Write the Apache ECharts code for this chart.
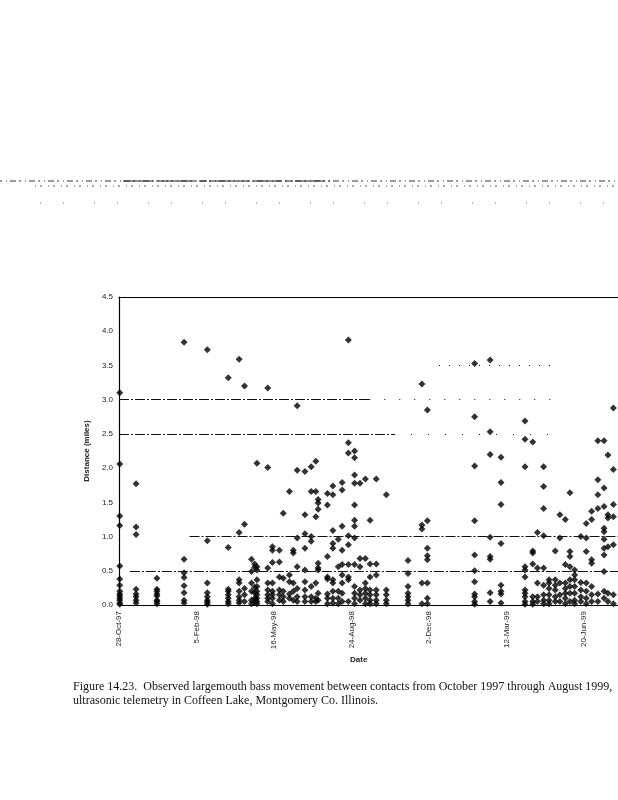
<!DOCTYPE html>
<html>
<head>
<meta charset="utf-8">
<script src="https://cdn.jsdelivr.net/npm/echarts@6/dist/echarts.min.js"></script>
<style>
html,body{margin:0;padding:0;background:#fff;}
#chart{width:618px;height:800px;}
</style>
</head>
<body>
<div id="chart"></div>
<script>
// Tick labels (x axis: days since 28-Oct-97, every 100 days)
const dateLabels = ['28-Oct-97','5-Feb-98','16-May-98','24-Aug-98','2-Dec-98','12-Mar-99','20-Jun-99'];
const yTickLabels = ['0.0','0.5','1.0','1.5','2.0','2.5','3.0','3.5','4.0','4.5'];

// Tracking days (days after 28-Oct-97)
const trackDays = [1,22,49,84,114,141,155,162,171,175,178,192,198,207,212,220,225,230,240,248,254,257,269,276,283,288,296,304,311,318,324,332,345,373,391,398,459,479,493,524,534,540,548,555,563,569,576,582,588,596,603,610,618,626,631,638];

// Distances moved (miles) observed on each tracking day
const distances = [
  [3.10,2.06,1.30,1.16,0.57,0.38,0.29,0.20,0.16,0.13,0.10,0.07,0.03,0.01],
  [1.77,1.14,1.03,0.23,0.16,0.12,0.07,0.03],
  [0.39,0.23,0.20,0.16,0.13,0.07,0.05,0.02],
  [3.84,0.67,0.47,0.40,0.28,0.18,0.07,0.03],
  [3.73,0.94,0.32,0.18,0.12,0.07,0.04,0.01],
  [3.32,0.84,0.23,0.20,0.15,0.10,0.05,0.02],
  [3.59,1.06,0.37,0.32,0.20,0.12,0.07,0.03],
  [3.20,1.18,0.24,0.15,0.05],
  [0.67,0.49,0.32,0.20,0.07,0.02],
  [0.60,0.55,0.26,0.18,0.10,0.04],
  [2.07,0.56,0.51,0.37,0.27,0.20,0.15,0.10,0.05,0.02],
  [3.17,2.01,0.54,0.32,0.22,0.15,0.10,0.05],
  [0.85,0.80,0.62,0.32,0.20,0.15,0.10,0.02],
  [0.80,0.63,0.41,0.22,0.15,0.07],
  [1.34,0.39,0.20,0.12,0.05],
  [1.66,0.44,0.34,0.16,0.10],
  [0.80,0.76,0.32,0.20,0.07],
  [2.91,1.97,0.98,0.56,0.24,0.12,0.05],
  [1.95,1.32,1.04,0.83,0.51,0.34,0.22,0.12,0.05],
  [2.02,1.66,1.00,0.93,0.27,0.12,0.05],
  [2.10,1.66,1.29,0.32,0.10,0.05],
  [1.54,1.49,1.40,0.61,0.54,0.51,0.17,0.07],
  [1.63,1.46,0.71,0.41,0.38,0.16,0.10,0.02],
  [1.74,1.61,1.09,0.90,0.83,0.37,0.32,0.20,0.10,0.03],
  [0.96,0.56,0.20,0.10,0.02],
  [1.79,1.68,1.15,0.80,0.59,0.44,0.32,0.17,0.05],
  [3.87,2.37,2.22,1.01,0.88,0.59,0.41,0.37,0.05],
  [2.25,2.15,1.90,1.78,1.46,1.24,1.15,0.98,0.59,0.27,0.17,0.10,0.02],
  [1.78,0.68,0.56,0.22,0.15,0.07],
  [1.84,0.68,0.32,0.24,0.17,0.10,0.02],
  [1.24,0.60,0.41,0.22,0.15,0.07,0.02],
  [1.84,0.60,0.44,0.22,0.15,0.07,0.02],
  [1.61,0.22,0.15,0.07,0.02],
  [0.65,0.46,0.27,0.17,0.12,0.07,0.02],
  [3.23,1.17,1.11,0.32,0.02],
  [2.85,1.23,0.83,0.72,0.66,0.32,0.10,0.02],
  [3.53,2.75,2.03,1.23,0.73,0.50,0.34,0.16,0.12,0.05,0.01],
  [3.58,2.53,2.20,0.99,0.71,0.67,0.18,0.05],
  [2.16,1.79,1.47,0.90,0.29,0.20,0.16,0.03],
  [2.69,2.42,2.02,0.56,0.51,0.41,0.22,0.17,0.12,0.05,0.01],
  [2.38,0.79,0.76,0.60,0.12,0.05,0.01],
  [1.06,0.54,0.32,0.12,0.05],
  [2.02,1.73,1.41,1.01,0.54,0.29,0.15,0.07,0.02],
  [0.37,0.32,0.24,0.15,0.07,0.02],
  [0.79,0.37,0.29,0.22,0.12,0.05],
  [1.32,0.98,0.32,0.15,0.05],
  [1.25,0.59,0.32,0.24,0.17,0.10,0.02],
  [1.64,0.78,0.71,0.56,0.37,0.27,0.17,0.05],
  [0.51,0.44,0.37,0.27,0.17,0.07,0.02],
  [1.00,0.33,0.22,0.12,0.05],
  [1.19,0.98,0.78,0.32,0.20,0.10,0.02],
  [1.37,1.25,0.66,0.61,0.27,0.15,0.05],
  [2.40,1.83,1.61,1.41,0.16,0.05],
  [2.40,1.71,1.44,1.12,1.07,0.96,0.83,0.73,0.49,0.20,0.10],
  [2.19,1.32,1.27,0.85,0.17,0.05],
  [2.88,1.98,1.47,1.29,0.88,0.15,0.02]
];

const points = [];
trackDays.forEach((d, i) => distances[i].forEach(v => points.push([d, v])));

// Faded (scanned) gridline segments: [value, fromDay, toDay, dashPattern]
const gridSegs = [
  [3.0, 0, 323, [10,2,2,2]], [3.0, 323, 567, [1,14]],
  [2.5, 0, 355, [10,2,2,2]], [2.5, 355, 567, [1,16]],
  [3.5, 413, 567, [1,9]],
  [1.0, 91, 644, [10,2,2,2]],
  [0.5, 14, 644, [10,2,2,2]]
];
const markLines = gridSegs.map(s => ([
  {coord:[s[1], s[0]], lineStyle:{type:s[3], color:'#111', width:1}},
  {coord:[s[2], s[0]]}
]));

const lblFont = 'Liberation Sans, Arial';
const chart = echarts.init(document.getElementById('chart'), null, {renderer:'canvas'});
chart.setOption({
  animation:false,
  backgroundColor:'#fff',
  grid:{left:119, right:-2, top:297, bottom:195, show:false},
  xAxis:[{
    type:'value', min:0, max:644, interval:100,
    axisLine:{show:true, onZero:false, lineStyle:{color:'#000', width:1.2}},
    axisTick:{show:false},
    splitLine:{show:false},
    axisLabel:{rotate:90, margin:6, fontSize:8, color:'#222', fontFamily:lblFont,
      showMaxLabel:false,
      formatter:v => (v % 100 === 0 && dateLabels[v/100]) ? dateLabels[v/100] : ''}
  },{
    type:'value', position:'top', min:0, max:644,
    axisLine:{show:true, onZero:false, lineStyle:{color:'#000', width:1.2}},
    axisTick:{show:false}, axisLabel:{show:false}, splitLine:{show:false}
  }],
  yAxis:{
    type:'value', min:0, max:4.5, interval:0.5,
    name:'Distance (miles)', nameLocation:'middle', nameGap:18,
    nameTextStyle:{fontSize:8, color:'#222', fontFamily:lblFont, fontWeight:'bold'},
    axisLine:{show:true, lineStyle:{color:'#000', width:1.2}},
    axisTick:{show:false},
    splitLine:{show:false},
    axisLabel:{margin:6, fontSize:8, color:'#222', fontFamily:lblFont,
      formatter:v => yTickLabels[Math.round(v/0.5)]}
  },
  series:[{
    type:'scatter',
    xAxisIndex:0,
    data:points,
    symbol:'diamond',
    symbolSize:[7,7],
    itemStyle:{color:'#000'},
    markLine:{symbol:'none', silent:true, label:{show:false}, data:markLines}
  }],
  graphic:[
    // scan artifacts at top
    {type:'line', shape:{x1:0,y1:181,x2:618,y2:181}, style:{stroke:'#333', lineWidth:1, lineDash:[2,4,1,3,6,3]}},
    {type:'line', shape:{x1:123,y1:181,x2:330,y2:181}, style:{stroke:'#222', lineWidth:1, lineDash:[30,3,8,2]}},
    {type:'line', shape:{x1:35,y1:186,x2:618,y2:186}, style:{stroke:'#555', lineWidth:1, lineDash:[1,4,2,6]}},
    {type:'line', shape:{x1:40,y1:203,x2:618,y2:203}, style:{stroke:'#666', lineWidth:1, lineDash:[1,22,1,30]}},
    {type:'text', left:350, top:656, style:{text:'Date', fontSize:8, fontWeight:'bold', fill:'#222', fontFamily:lblFont, textAlign:'center'}},
    {type:'text', left:73, top:680, style:{text:'Figure 14.23.  Observed largemouth bass movement between contacts from October 1997 through August 1999,\nultrasonic telemetry in Coffeen Lake, Montgomery Co. Illinois.', fontSize:12, lineHeight:14, fill:'#111', fontFamily:'Liberation Serif, Times New Roman, serif'}}
  ]
});
</script>
</body>
</html>
